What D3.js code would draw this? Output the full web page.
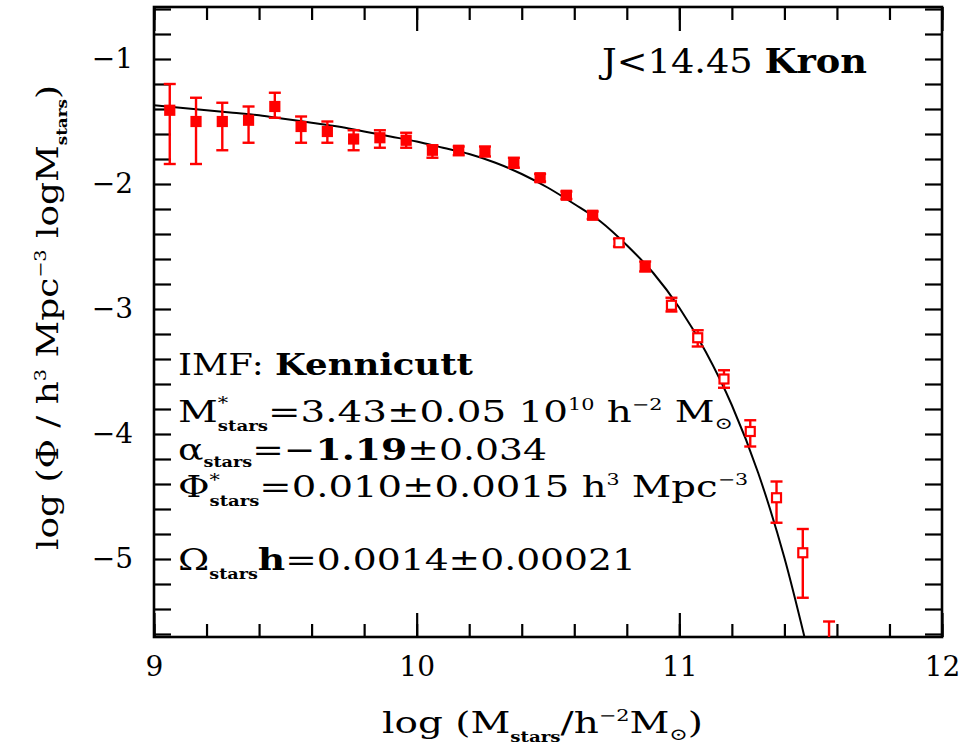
<!DOCTYPE html>
<html>
<head>
<meta charset="utf-8">
<script src="https://cdn.jsdelivr.net/npm/d3@7"></script>
<style>
  body { margin: 0; background: #fff; }
  text { font-family: "DejaVu Serif", serif; fill: #000; }
</style>
</head>
<body>
<svg width="969" height="744"></svg>
<script>
// data
var massBins = [9.06, 9.16, 9.26, 9.36, 9.46, 9.56, 9.66, 9.76, 9.86, 9.96,
                10.06, 10.16, 10.26, 10.37, 10.47, 10.57, 10.67, 10.77, 10.87, 10.97,
                11.07, 11.17, 11.27, 11.37, 11.47, 11.57];
var logPhi = [-1.41, -1.50, -1.50, -1.49, -1.38, -1.54, -1.58, -1.64, -1.63, -1.65,
              -1.73, -1.73, -1.74, -1.83, -1.95, -2.09, -2.25, -2.47, -2.66, -2.97,
              -3.23, -3.56, -3.98, -4.51, -4.95, -5.85];
var errHigh = [-1.20, -1.31, -1.35, -1.38, -1.27, -1.46, -1.50, -1.57, -1.57, -1.59,
               -1.69, -1.70, -1.70, -1.79, -1.92, -2.06, -2.22, -2.44, -2.62, -2.91,
               -3.17, -3.49, -3.89, -4.38, -4.76, -5.50];
var errLow = [-1.84, -1.84, -1.73, -1.67, -1.47, -1.67, -1.67, -1.73, -1.71, -1.71,
              -1.79, -1.77, -1.78, -1.87, -1.98, -2.12, -2.28, -2.50, -2.70, -3.02,
              -3.30, -3.63, -4.10, -4.71, -5.31, -6.30];

// Schechter fit line
var fitMass = [9.0, 9.1, 9.2, 9.3, 9.4, 9.5, 9.6, 9.7, 9.8, 9.9, 10.0, 10.1, 10.2,
               10.3, 10.4, 10.5, 10.6, 10.7, 10.8, 10.9, 11.0, 11.1, 11.2, 11.3, 11.4, 11.5];
var fitLogPhi = [-1.37, -1.39, -1.41, -1.43, -1.45, -1.48, -1.51, -1.54, -1.58, -1.62,
                 -1.66, -1.71, -1.76, -1.83, -1.92, -2.03, -2.16, -2.30, -2.49, -2.71,
                 -2.99, -3.34, -3.77, -4.31, -4.99, -5.83];

var xTicks = [9, 10, 11, 12];
var yTicks = [-1, -2, -3, -4, -5];

var svg = d3.select("svg");

var xScale = d3.scaleLinear().domain([9, 12]).range([154, 942]);
var yScale = d3.scaleLinear().domain([-0.584, -5.624]).range([7, 637]);

var x0 = 154, x1 = 942, y0 = 7, y1 = 637;

svg.append("defs").append("clipPath").attr("id", "plot")
  .append("rect").attr("x", x0).attr("y", y0).attr("width", x1 - x0).attr("height", y1 - y0);

// minor / major ticks (inward on all four sides)
var minorX = d3.range(9, 12.001, 0.2).map(function(d) { return +d.toFixed(1); });
var minorY = d3.range(-5.6, -0.59, 0.2).map(function(d) { return +d.toFixed(1); });

function tickAxis(axis, g) {
  g.call(axis);
  g.select(".domain").remove();
  g.selectAll("line").attr("stroke", "#000").attr("stroke-width", 2.2);
  g.selectAll("text").remove();
}

tickAxis(d3.axisBottom(xScale).tickValues(minorX).tickSize(-13),
  svg.append("g").attr("transform", "translate(0," + y1 + ")"));
tickAxis(d3.axisBottom(xScale).tickValues(xTicks).tickSize(-24),
  svg.append("g").attr("transform", "translate(0," + y1 + ")"));
tickAxis(d3.axisTop(xScale).tickValues(minorX).tickSize(-13),
  svg.append("g").attr("transform", "translate(0," + y0 + ")"));
tickAxis(d3.axisTop(xScale).tickValues(xTicks).tickSize(-24),
  svg.append("g").attr("transform", "translate(0," + y0 + ")"));
tickAxis(d3.axisLeft(yScale).tickValues(minorY).tickSize(-17),
  svg.append("g").attr("transform", "translate(" + x0 + ",0)"));
tickAxis(d3.axisRight(yScale).tickValues(minorY).tickSize(-17),
  svg.append("g").attr("transform", "translate(" + x1 + ",0)"));

// tick labels
var xLab = svg.append("g").attr("transform", "translate(0," + y1 + ")")
  .call(d3.axisBottom(xScale).tickValues(xTicks).tickFormat(d3.format("d")).tickSize(0).tickPadding(19));
xLab.select(".domain").remove();
xLab.selectAll("text").style("font-size", "28px").style("font-family", "DejaVu Serif")
  .attr("fill", "#000");

var yLab = svg.append("g").attr("transform", "translate(" + x0 + ",0)")
  .call(d3.axisLeft(yScale).tickValues(yTicks).tickFormat(d3.format("d")).tickSize(0).tickPadding(21));
yLab.select(".domain").remove();
yLab.selectAll("text").style("font-size", "28px").style("font-family", "DejaVu Serif")
  .attr("fill", "#000");

// frame
svg.append("rect").attr("x", x0).attr("y", y0).attr("width", x1 - x0).attr("height", y1 - y0)
  .attr("fill", "none").attr("stroke", "#000").attr("stroke-width", 2.6);

var plot = svg.append("g").attr("clip-path", "url(#plot)");

// fit curve
var line = d3.line()
  .x(function(d, i) { return xScale(fitMass[i]); })
  .y(function(d) { return yScale(d); })
  .curve(d3.curveMonotoneX);
plot.append("path").datum(fitLogPhi).attr("d", line)
  .attr("fill", "none").attr("stroke", "#000").attr("stroke-width", 2);

// error bars and markers
var pts = plot.selectAll("g.pt").data(logPhi).enter().append("g").attr("class", "pt");
pts.append("line")
  .attr("x1", function(d, i) { return xScale(massBins[i]); })
  .attr("x2", function(d, i) { return xScale(massBins[i]); })
  .attr("y1", function(d, i) { return yScale(errHigh[i]); })
  .attr("y2", function(d, i) { return yScale(errLow[i]); })
  .attr("stroke", "red").attr("stroke-width", 2.4);
[errHigh, errLow].forEach(function(arr) {
  pts.append("line")
    .attr("x1", function(d, i) { return xScale(massBins[i]) - 6; })
    .attr("x2", function(d, i) { return xScale(massBins[i]) + 6; })
    .attr("y1", function(d, i) { return yScale(arr[i]); })
    .attr("y2", function(d, i) { return yScale(arr[i]); })
    .attr("stroke", "red").attr("stroke-width", 2.4);
});
pts.append("rect")
  .attr("x", function(d, i) { return xScale(massBins[i]) - 4.5; })
  .attr("y", function(d) { return yScale(d) - 4.5; })
  .attr("width", 9).attr("height", 9)
  .attr("fill", function(d, i) { return (i >= 17 && i !== 18) ? "#fff" : "red"; })
  .attr("stroke", "red").attr("stroke-width", 2.2);

// rich text helper: parts = [text, baselineShift, fontSize, dx, bold]
function rich(x, y, parts, size, len, extra) {
  var t = svg.append("text").attr("x", x).attr("y", y).style("font-size", size + "px");
  var shift = 0;
  parts.forEach(function(p) {
    var off = p[1] || 0;
    var s = t.append("tspan").text(p[0]).attr("dy", off - shift);
    shift = off;
    if (p[2]) s.style("font-size", p[2] + "px");
    if (p[3]) s.attr("dx", p[3]);
    if (p[4]) s.style("font-weight", "bold");
  });
  if (len) t.attr("textLength", len).attr("lengthAdjust", "spacingAndGlyphs");
  if (extra) extra(t);
  return t;
}

rich(602, 73, [["J<14.45 "], ["Kron", 0, 0, 0, true]], 34, 265);

rich(178, 375, [["IMF: "], ["Kennicutt", 0, 0, 0, true]], 30, 295);
rich(178, 422, [["M"], ["*", -13, 16], ["stars", 9, 14, -8, true],
                ["=3.43±0.05  10", 0], ["10", -12, 16], [" h", 0], ["−2", -12, 16],
                [" M", 0], ["⊙", 7, 17]], 30, 555);
rich(178, 460, [["α"], ["stars", 7, 14, 0, true], ["=−", 0], ["1.19", 0, 0, 0, true], ["±0.034", 0]], 30, 369);
rich(178, 497, [["Φ"], ["*", -11, 16], ["stars", 9, 14, -8, true],
                ["=0.010±0.0015  h", 0], ["3", -12, 16], [" Mpc", 0], ["−3", -12, 16]], 30, 570);
rich(178, 570, [["Ω"], ["stars", 9, 14, 0, true], ["h", 0, 0, 0, true], ["=0.0014±0.00021", 0]], 30, 458);

// axis titles
rich(382, 733, [["log  (M"], ["stars", 9, 14, 0, true], ["/h", 0], ["−2", -12, 16], ["M", 0], ["⊙", 7, 17], [")", 0]], 30, 321);

rich(0, 0, [["log (Φ / h"], ["3", -12, 16], [" Mpc", 0], ["−3", -12, 16], [" logM", 0], ["stars", 9, 14, 0, true], [")", 0]], 30, 465,
  function(t) { t.attr("transform", "translate(58,550) rotate(-90)"); });
</script>
</body>
</html>
